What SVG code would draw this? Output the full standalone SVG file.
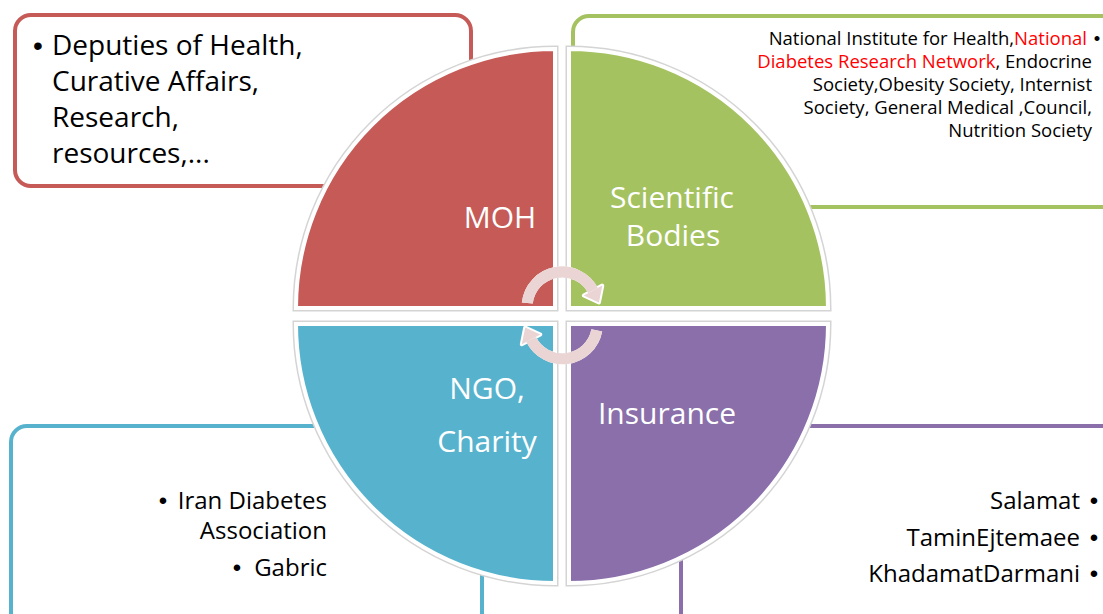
<svg xmlns="http://www.w3.org/2000/svg" width="1103" height="614" viewBox="0 0 1103 614">
<style>
.box{fill:#ffffff;stroke-width:4}
.q{stroke:#ffffff;stroke-width:4}
.qo{fill:none;stroke:#d4d4d4;stroke-width:7}
.lbl{font-family:"Open Sans","Liberation Sans",sans-serif;font-size:30px;fill:#ffffff;text-anchor:middle}
.t{font-family:"Open Sans","Liberation Sans",sans-serif;fill:#000000}
.b{font-family:"Liberation Sans",sans-serif;fill:#000000;text-anchor:middle}
.s{font-size:18.5px}
.m{font-size:24px}
.l{font-size:28px}
.e{text-anchor:end}
.red{fill:#ff0000}
.arr{fill:none;stroke-width:11;stroke-linecap:butt}
</style>
<rect width="1103" height="614" fill="#ffffff"/>
<g id="box-moh">
<rect class="box" x="15" y="15" width="456" height="171" rx="16" stroke="#c55a57"/>
<text class="b l" x="38" y="55">•</text>
<text class="t l" x="52" y="55">Deputies of Health,</text>
<text class="t l" x="52" y="91">Curative Affairs,</text>
<text class="t l" x="52" y="127">Research,</text>
<text class="t l" x="52" y="163">resources,...</text>
</g>
<g id="box-scientific">
<rect class="box" x="573" y="16" width="560" height="191" rx="16" stroke="#a5c261"/>
<text class="t s e" x="1087" y="45">National Institute for Health,<tspan class="red">National</tspan></text>
<text class="b s" x="1097" y="45">•</text>
<text class="t s e" x="1092" y="68"><tspan class="red">Diabetes Research Network</tspan>, Endocrine</text>
<text class="t s e" x="1092" y="91">Society,Obesity Society, Internist</text>
<text class="t s e" x="1092" y="114">Society, General Medical ,Council,</text>
<text class="t s e" x="1092" y="137">Nutrition Society</text>
</g>
<g id="box-ngo">
<rect class="box" x="11" y="426" width="471" height="220" rx="16" stroke="#57b3cd"/>
<text class="b m" x="163" y="509">•</text>
<text class="t m e" x="327" y="509">Iran Diabetes</text>
<text class="t m e" x="327" y="539">Association</text>
<text class="b m" x="237" y="576">•</text>
<text class="t m e" x="327" y="576">Gabric</text>
</g>
<g id="box-insurance">
<rect class="box" x="681" y="426" width="460" height="220" rx="16" stroke="#8a6faa"/>
<text class="t m e" x="1080" y="509">Salamat</text>
<text class="b m" x="1094" y="509">•</text>
<text class="t m e" x="1080" y="546">TaminEjtemaee</text>
<text class="b m" x="1094" y="546">•</text>
<text class="t m e" x="1080" y="582">KhadamatDarmani</text>
<text class="b m" x="1094" y="582">•</text>
</g>
<g id="node-moh">
<path class="qo" d="M555,308 L296,308 A259,259 0 0 1 555,49 Z"/>
<path class="q" fill="#c55a57" d="M555,308 L296,308 A259,259 0 0 1 555,49 Z"/>
<text class="lbl" x="500" y="228">MOH</text>
</g>
<g id="node-scientific">
<path class="qo" d="M569,308 L569,49 A259,259 0 0 1 828,308 Z"/>
<path class="q" fill="#a5c261" d="M569,308 L569,49 A259,259 0 0 1 828,308 Z"/>
<text class="lbl" x="672" y="208">Scientific</text>
<text class="lbl" x="673" y="246">Bodies</text>
</g>
<g id="node-ngo">
<path class="qo" d="M555,324 L555,583 A259,259 0 0 1 296,324 Z"/>
<path class="q" fill="#57b3cd" d="M555,324 L555,583 A259,259 0 0 1 296,324 Z"/>
<text class="lbl" x="487" y="399">NGO,</text>
<text class="lbl" x="487" y="452">Charity</text>
</g>
<g id="node-insurance">
<path class="qo" d="M569,324 L828,324 A259,259 0 0 1 569,583 Z"/>
<path class="q" fill="#8a6faa" d="M569,324 L828,324 A259,259 0 0 1 569,583 Z"/>
<text class="lbl" x="667" y="424">Insurance</text>
</g>
<g id="connectors">
<path class="arr" stroke="#ffffff" stroke-width="15" d="M527.3,303 A35,35 0 0 1 593.0,290.5"/>
<polygon fill="#ffffff" stroke="#ffffff" stroke-width="4" stroke-linejoin="round" points="602.3,285.6 583.8,295.5 598.9,302.5"/>
<path class="arr" stroke="#ead4d4" d="M527.3,303 A35,35 0 0 1 593.0,290.5"/>
<polygon fill="#ead4d4" points="602.3,285.6 583.8,295.5 598.9,302.5"/>
<path class="arr" stroke="#ffffff" stroke-width="15" d="M596.8,330.4 A35,35 0 0 1 531.1,339.4"/>
<polygon fill="#ffffff" stroke="#ffffff" stroke-width="4" stroke-linejoin="round" points="521.8,344.3 540.3,334.5 525.2,327.5"/>
<path class="arr" stroke="#ead4d4" d="M596.8,330.4 A35,35 0 0 1 531.1,339.4"/>
<polygon fill="#ead4d4" points="521.8,344.3 540.3,334.5 525.2,327.5"/>
</g>
</svg>
